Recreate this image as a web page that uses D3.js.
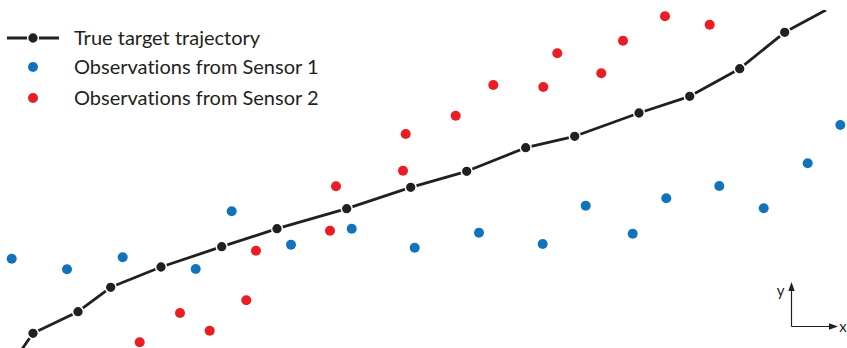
<!DOCTYPE html>
<html>
<head>
<meta charset="utf-8">
<script src="https://cdn.jsdelivr.net/npm/d3@7"></script>
<style>
  html, body { margin: 0; padding: 0; background: #fff; }
  svg { display: block; }
  text { font-variant-ligatures: none; font-feature-settings: "liga" 0; }
</style>
</head>
<body>
<svg id="chart" width="847" height="348"></svg>
<script>
// ---- data (abstract x/y units) ----
const trueX = [3.3, 7.8, 11.07, 16.1, 22.17, 27.7, 34.67, 41.07, 46.67, 52.57, 57.47, 63.9, 68.97, 73.97, 78.47];
const trueY = [1.47, 3.63, 6.07, 8.1, 10.13, 11.93, 13.93, 16.07, 17.67, 20.03, 21.17, 23.5, 25.17, 27.93, 31.57];
// trajectory continues beyond the first and last marked states
const trajEnterX = [2.0], trajEnterY = [-0.4];
const trajExitX = [82.6], trajExitY = [33.8];

const sensor1X = [1.17, 6.7, 12.27, 19.57, 23.17, 29.1, 35.17, 41.47, 47.9, 54.27, 58.57, 63.27, 66.63, 71.93, 76.37, 80.77, 84.03];
const sensor1Y = [8.93, 7.87, 9.07, 7.9, 13.67, 10.33, 11.93, 10.03, 11.53, 10.4, 14.23, 11.43, 14.97, 16.2, 13.97, 18.47, 22.3];

const sensor2X = [13.97, 18.0, 20.97, 24.63, 25.6, 33.0, 33.6, 40.3, 40.57, 45.57, 49.33, 54.33, 55.73, 60.13, 62.3, 66.5, 70.97];
const sensor2Y = [0.57, 3.5, 1.73, 4.77, 9.73, 11.73, 16.17, 17.73, 21.4, 23.23, 26.3, 26.1, 29.47, 27.47, 30.73, 33.17, 32.33];

const legendLabels = ["True target trajectory", "Observations from Sensor 1", "Observations from Sensor 2"];
const axisLabels = ["x", "y"];

// ---- styles ----
const W = 847, H = 348;
const colTrue = "#231f20", colS1 = "#1273bd", colS2 = "#ec1c24";
const font = "Lato, 'Open Sans', sans-serif";

const svg = d3.select("#chart");
const x = d3.scaleLinear().domain([0, 84.7]).range([0, W]);
const y = d3.scaleLinear().domain([0, 34.8]).range([H, 0]);

svg.append("defs").append("clipPath").attr("id", "plotclip")
  .append("rect").attr("x", 0).attr("y", 10).attr("width", W).attr("height", H - 10);

const plot = svg.append("g").attr("clip-path", "url(#plotclip)");

// observations
const s1 = sensor1X.map((v, i) => [v, sensor1Y[i]]);
const s2 = sensor2X.map((v, i) => [v, sensor2Y[i]]);
plot.selectAll("circle.s1").data(s1).join("circle").attr("class", "s1")
  .attr("cx", d => x(d[0])).attr("cy", d => y(d[1])).attr("r", 5).attr("fill", colS1);
plot.selectAll("circle.s2").data(s2).join("circle").attr("class", "s2")
  .attr("cx", d => x(d[0])).attr("cy", d => y(d[1])).attr("r", 5).attr("fill", colS2);

// trajectory
const states = trueX.map((v, i) => [v, trueY[i]]);
const path = [[trajEnterX[0], trajEnterY[0]], ...states, [trajExitX[0], trajExitY[0]]];
const line = d3.line().x(d => x(d[0])).y(d => y(d[1]));
plot.append("path").attr("d", line(path)).attr("fill", "none")
  .attr("stroke", colTrue).attr("stroke-width", 2.8).attr("stroke-linejoin", "round");
plot.selectAll("circle.st").data(states).join("circle").attr("class", "st")
  .attr("cx", d => x(d[0])).attr("cy", d => y(d[1])).attr("r", 5.4)
  .attr("fill", colTrue).attr("stroke", "#fff").attr("stroke-width", 1.5);

// legend
const lg = svg.append("g");
const rows = [38, 67, 98];
lg.append("line").attr("x1", 7).attr("x2", 59).attr("y1", rows[0]).attr("y2", rows[0])
  .attr("stroke", colTrue).attr("stroke-width", 2.8);
lg.append("circle").attr("cx", 33).attr("cy", rows[0]).attr("r", 5.4)
  .attr("fill", colTrue).attr("stroke", "#fff").attr("stroke-width", 1.5);
lg.append("circle").attr("cx", 33).attr("cy", rows[1]).attr("r", 5).attr("fill", colS1);
lg.append("circle").attr("cx", 33).attr("cy", rows[2]).attr("r", 5).attr("fill", colS2);
lg.selectAll("text").data(legendLabels).join("text")
  .attr("x", 74).attr("y", (d, i) => rows[i] + 7)
  .attr("font-family", font).attr("font-size", 20).attr("fill", colTrue)
  .text(d => d);

// axis indicator
const ax = svg.append("g");
const ox = 791.5, oy = 326.5;
ax.append("line").attr("x1", ox).attr("y1", oy).attr("x2", ox).attr("y2", 289)
  .attr("stroke", colTrue).attr("stroke-width", 1.2);
ax.append("line").attr("x1", ox).attr("y1", oy).attr("x2", 831).attr("y2", oy)
  .attr("stroke", colTrue).attr("stroke-width", 1.2);
ax.append("path").attr("d", `M${ox},282 L${ox - 3.2},291 L${ox + 3.2},291 Z`).attr("fill", colTrue);
ax.append("path").attr("d", `M838,${oy} L829,${oy - 3.2} L829,${oy + 3.2} Z`).attr("fill", colTrue);
ax.append("text").attr("x", 843).attr("y", oy + 5).attr("text-anchor", "middle")
  .attr("font-family", font).attr("font-size", 15).attr("fill", colTrue).text(axisLabels[0]);
ax.append("text").attr("x", 780.5).attr("y", 296).attr("text-anchor", "middle")
  .attr("font-family", font).attr("font-size", 15).attr("fill", colTrue).text(axisLabels[1]);
</script>
</body>
</html>
